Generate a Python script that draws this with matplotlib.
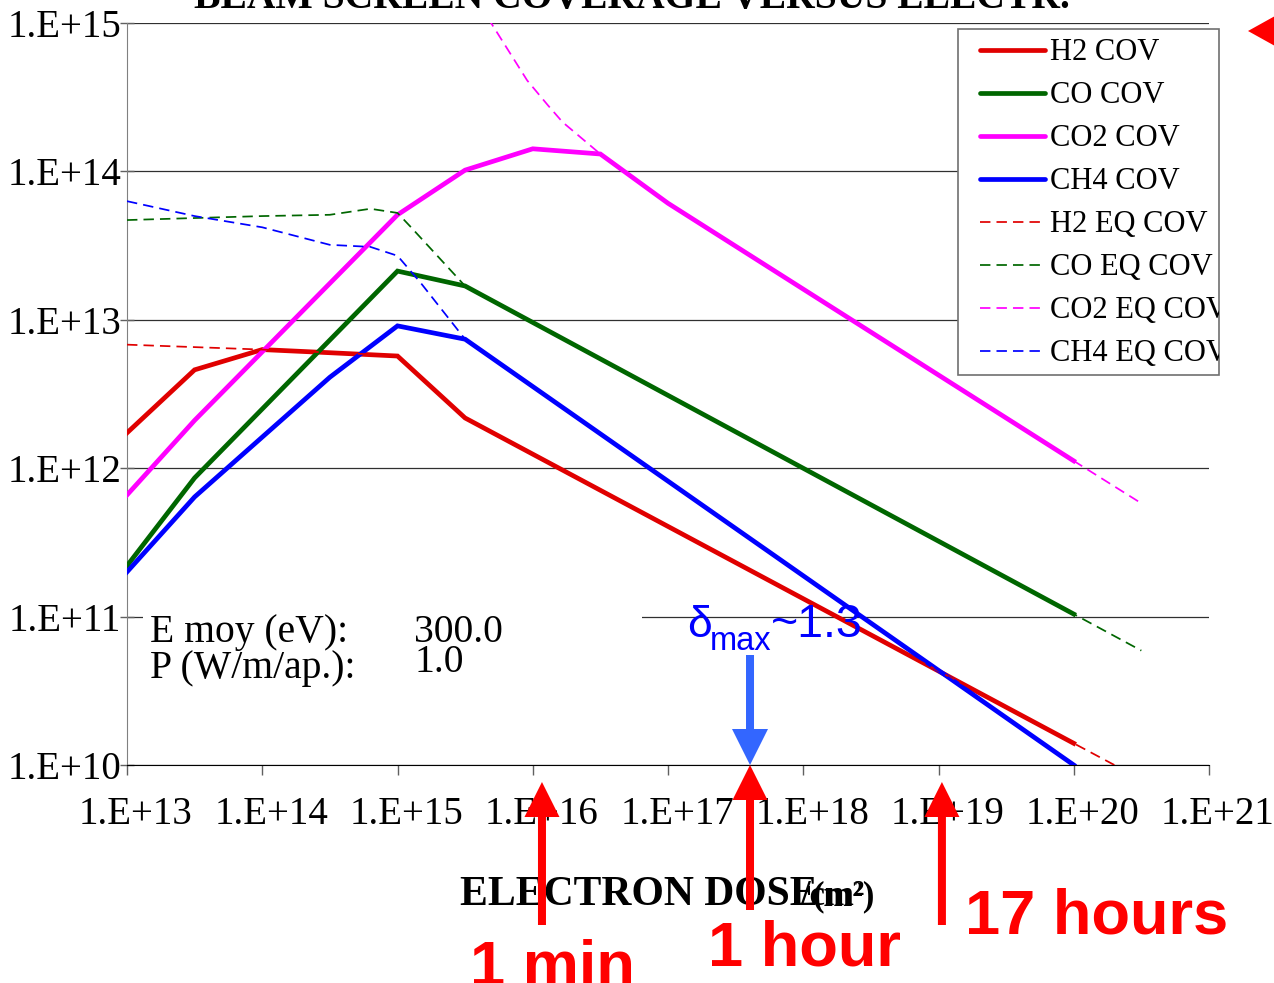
import matplotlib
matplotlib.use('Agg')
import matplotlib.pyplot as plt
from matplotlib.patches import Rectangle, Polygon
from matplotlib.lines import Line2D
from matplotlib.ticker import NullLocator
from matplotlib.transforms import Bbox, TransformedBbox, ScaledTranslation

W, H, DPI = 1274, 983, 100
plt.rcParams['font.family'] = ['Liberation Serif', 'DejaVu Serif']

# ---------------- data ----------------
h2_cov_dose = [1e13, 3.16e13, 1e14, 3.16e14, 1e15, 3.16e15, 1e20]
h2_cov = [1.73e12, 4.6e12, 6.3e12, 6.0e12, 5.7e12, 2.18e12, 1.4e10]
co_cov_dose = [1e13, 3.16e13, 1e15, 3.16e15, 1e20]
co_cov = [2.2e11, 8.6e11, 2.13e13, 1.69e13, 1.04e11]
co2_cov_dose = [1e13, 3.16e13, 1e15, 3.16e15, 1e16, 3.16e16, 1e17, 1e20]
co2_cov = [6.6e11, 2.1e12, 5.1e13, 1.02e14, 1.42e14, 1.31e14, 6.1e13, 1.12e12]
ch4_cov_dose = [1e13, 3.16e13, 3.16e14, 1e15, 3.16e15, 1e20]
ch4_cov = [2.0e11, 6.4e11, 4.1e12, 9.1e12, 7.4e12, 1.0e10]

h2_eq_dose = [1e13, 1e14, 1e15, 3.16e15, 1e20, 3.16e20]
h2_eq = [6.8e12, 6.3e12, 5.75e12, 2.18e12, 1.4e10, 8.0e9]
co_eq_dose = [1e13, 3.16e13, 1e14, 3.16e14, 6.3e14, 1e15, 1.26e15, 3.16e15, 1e20, 3.16e20]
co_eq = [4.7e13, 4.85e13, 5.0e13, 5.1e13, 5.6e13, 5.25e13, 4.2e13, 1.69e13, 1.04e11, 5.9e10]
co2_eq_dose = [4.0e15, 9.1e15, 1.29e16, 1.66e16, 3.16e16, 1e17, 1e20, 3.16e20]
co2_eq = [1.35e15, 4.1e14, 2.8e14, 2.15e14, 1.31e14, 6.1e13, 1.12e12, 5.8e11]
ch4_eq_dose = [1e13, 3.16e13, 1e14, 3.16e14, 6.3e14, 1e15, 1.48e15, 3.16e15, 1e20, 3.16e20]
ch4_eq = [6.3e13, 5.0e13, 4.2e13, 3.2e13, 3.1e13, 2.7e13, 1.78e13, 7.4e12, 1.0e10, 4.8e9]

x_ticks = [1e13, 1e14, 1e15, 1e16, 1e17, 1e18, 1e19, 1e20, 1e21]
x_labels = ['1.E+13', '1.E+14', '1.E+15', '1.E+16', '1.E+17', '1.E+18', '1.E+19', '1.E+20', '1.E+21']
y_ticks = [1e10, 1e11, 1e12, 1e13, 1e14, 1e15]
y_labels = ['1.E+10', '1.E+11', '1.E+12', '1.E+13', '1.E+14', '1.E+15']

legend_names = ['H2 COV', 'CO COV', 'CO2 COV', 'CH4 COV',
                'H2 EQ COV', 'CO EQ COV', 'CO2 EQ COV', 'CH4 EQ COV']

marker_doses = [1.17e16, 4.04e17, 1.06e19]
marker_texts = ['1 min', '1 hour', '17 hours']

RED, GREEN, MAG, BLUE = '#E00000', '#006600', '#FF00FF', '#0000FF'
LW_SOLID, LW_DASH = 3.4, 1.25
DASHES = (6, 3.5)

# ---------------- figure ----------------
fig = plt.figure(figsize=(W / DPI, H / DPI), dpi=DPI)
ax = fig.add_axes([127 / W, 1 - 765 / H, (1209 - 127) / W, (765 - 23) / H])
ax.set_xscale('log')
ax.set_yscale('log')
ax.set_xlim(1e13, 1e21)
ax.set_ylim(1e10, 1e15)

series = [
    (h2_cov_dose, h2_cov, RED, '-'), (co_cov_dose, co_cov, GREEN, '-'),
    (co2_cov_dose, co2_cov, MAG, '-'), (ch4_cov_dose, ch4_cov, BLUE, '-'),
    (h2_eq_dose, h2_eq, RED, '--'), (co_eq_dose, co_eq, GREEN, '--'),
    (co2_eq_dose, co2_eq, MAG, '--'), (ch4_eq_dose, ch4_eq, BLUE, '--'),
]
for xs, ys, c, ls in series:
    if ls == '-':
        ax.plot(xs, ys, color=c, lw=LW_SOLID, solid_joinstyle='miter', zorder=3)
    else:
        ax.plot(xs, ys, color=c, lw=LW_DASH, dashes=DASHES, zorder=3.5)

ax.set_xticks(x_ticks)
ax.set_xticklabels(x_labels)
ax.set_yticks(y_ticks)
ax.set_yticklabels(y_labels)
ax.xaxis.set_minor_locator(NullLocator())
ax.yaxis.set_minor_locator(NullLocator())
ax.tick_params(axis='x', direction='out', length=7.2, width=1, color='#606060',
               pad=15, labelsize=28)
ax.tick_params(axis='y', direction='inout', length=10, width=1, color='#606060',
               pad=-1, labelsize=28)
off = ScaledTranslation(9 / DPI, 0, fig.dpi_scale_trans)
for lab in ax.get_xticklabels():
    lab.set_transform(lab.get_transform() + off)

ax.spines['top'].set_visible(False)
ax.spines['right'].set_visible(False)
ax.spines['left'].set_color('#808080')
ax.spines['bottom'].set_color('black')
ax.set_axisbelow(True)
ax.yaxis.grid(True, color='#303030', lw=0.9)
ax.xaxis.grid(False)

T = fig.transFigure
def fx(x):
    return x / W
def fy(y):
    return 1 - y / H

# white box behind info text (hides grid line)
ax.add_patch(Rectangle((fx(143), fy(700)), (642 - 143) / W, 100 / H,
                       transform=T, fc='white', ec='none', zorder=1))
ax.text(fx(150), fy(642), 'E moy (eV):', transform=T, fontsize=28.5, zorder=5)
ax.text(fx(414), fy(642), '300.0', transform=T, fontsize=28.5, zorder=5)
ax.text(fx(150), fy(678), 'P (W/m/ap.):', transform=T, fontsize=28.5, zorder=5)
ax.text(fx(414), fy(672), '1.0', transform=T, fontsize=28.5, zorder=5)

# delta max text
ax.text(fx(687), fy(637), 'δ', transform=T, fontsize=32, family='Liberation Sans',
        color=BLUE, zorder=5, clip_on=False)
ax.text(fx(710), fy(650), 'max', transform=T, fontsize=23.5, family='Liberation Sans',
        color=BLUE, zorder=5, clip_on=False)
ax.text(fx(771), fy(637), '~1.3', transform=T, fontsize=33.5, family='Liberation Sans',
        color=BLUE, zorder=5, clip_on=False)

# x label (overlapping pieces as in the original)
ax.text(fx(460), fy(905), 'ELECTRON DOSE', transform=T, fontsize=30, weight='bold',
        zorder=2, clip_on=False)
ax.text(fx(800), fy(905), '/cm²', transform=T, fontsize=25, weight='bold',
        zorder=2, clip_on=False)
ax.text(fx(812), fy(905), '(m²)', transform=T, fontsize=25, weight='bold',
        zorder=2, clip_on=False)

# title (clipped at top of the image)
fig.text(632 / W, fy(8), 'BEAM SCREEN COVERAGE VERSUS ELECTR.', ha='center',
         va='baseline', fontsize=28.5, weight='bold')

# blue arrow
ax.annotate('', xy=(marker_doses[1], H - 765), xycoords=('data', 'figure pixels'),
            xytext=(marker_doses[1], H - 655), textcoords=('data', 'figure pixels'),
            arrowprops=dict(arrowstyle='simple,head_length=1.8,head_width=1.8,tail_width=0.4',
                            mutation_scale=14.4, color='#3366FF', lw=0,
                            shrinkA=0, shrinkB=0),
            annotation_clip=False, zorder=4)

# red arrows and labels
tips = [782, 765, 782]
tails = [925, 910, 925]
text_pos = [(470, 985), (708, 966), (965, 933)]
for d, tip, tail, (tx, ty), s in zip(marker_doses, tips, tails, text_pos, marker_texts):
    ax.annotate('', xy=(d, H - tip), xycoords=('data', 'figure pixels'),
                xytext=(d, H - tail), textcoords=('data', 'figure pixels'),
                arrowprops=dict(arrowstyle='simple,head_length=1.75,head_width=1.75,tail_width=0.4',
                                mutation_scale=14.4, color='#FF0000', lw=0,
                                shrinkA=0, shrinkB=0),
                annotation_clip=False, zorder=4)
    ax.text(fx(tx), fy(ty), s, transform=T, fontsize=45.5, weight='bold',
            family='Liberation Sans', color='#FF0000', zorder=5, clip_on=False)

# red triangle at top right
fig.add_artist(Polygon([(fx(1248), fy(31)), (fx(1275), fy(16)), (fx(1275), fy(46))],
                       closed=True, transform=T, fc='#FF0000', ec='none'))

# manual legend (box clips the long labels)
lx0, ly0, lx1, ly1 = 958, 29, 1219, 375
fig.add_artist(Rectangle((fx(lx0), fy(ly1)), (lx1 - lx0) / W, (ly1 - ly0) / H,
                         transform=T, fc='white', ec='#707070', lw=1.2, zorder=6))
clipbox = TransformedBbox(Bbox.from_extents(fx(lx0), fy(ly1), fx(lx1), fy(ly0)), T)
for i, (name, (_, _, c, ls)) in enumerate(zip(legend_names, series)):
    yrow = 49.5 + i * 43.1
    if ls == '-':
        ln = Line2D([fx(980), fx(1045)], [fy(yrow), fy(yrow)], transform=T, color=c,
                    lw=LW_SOLID, solid_capstyle='round', zorder=7)
    else:
        ln = Line2D([fx(980), fx(1045)], [fy(yrow), fy(yrow)], transform=T, color=c,
                    lw=LW_DASH, dashes=DASHES, zorder=7)
    fig.add_artist(ln)
    t = fig.text(fx(1050), fy(yrow + 10), name, fontsize=22, va='baseline', zorder=7)
    t.set_clip_box(clipbox)
    t.set_clip_on(True)

fig.savefig('out.png', dpi=DPI)
